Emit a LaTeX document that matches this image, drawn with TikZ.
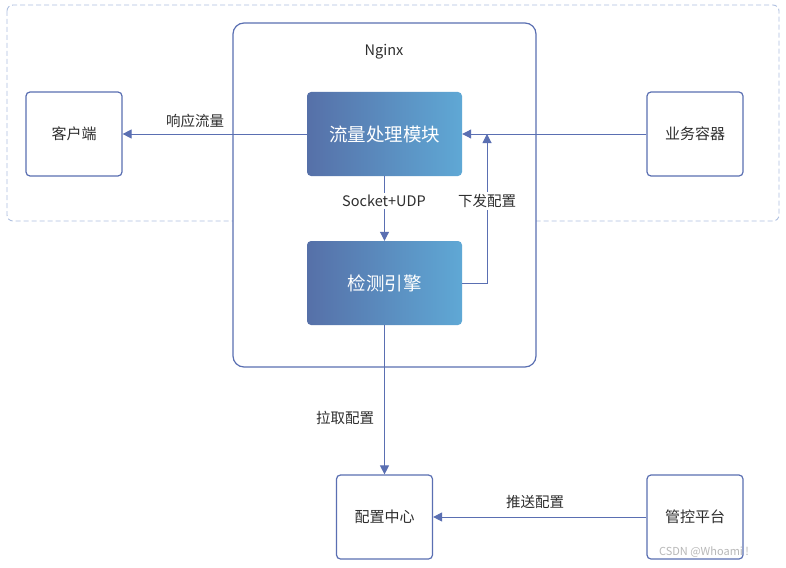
\documentclass[tikz,border=0pt]{standalone}
\usepackage{fontspec}
\setmainfont{Noto Sans CJK SC}
\usetikzlibrary{arrows.meta}
\definecolor{lineblue}{HTML}{5A6FB2}
\definecolor{dashblue}{HTML}{AFC0E0}
\definecolor{gradl}{HTML}{5670A8}
\definecolor{gradr}{HTML}{5FA8D5}
\definecolor{txt}{HTML}{2E2E2E}
\tikzset{
  plainbox/.style={draw=lineblue, line width=1.2pt, rounded corners=4pt, minimum width=96pt, minimum height=84pt, inner sep=0pt, font=\fontsize{15}{17}\selectfont, text=txt},
  gradbox/.style={rounded corners=4pt, minimum width=155pt, minimum height=84pt, inner sep=0pt, left color=gradl, right color=gradr, shading angle=90, text=white, font=\fontsize{18.5}{21}\selectfont},
  conn/.style={draw=lineblue, line width=1pt, -{Triangle[length=9pt,width=9pt]}},
  lbl/.style={font=\fontsize{14.5}{16}\selectfont, text=txt, inner sep=0pt},
}
\begin{document}
\begin{tikzpicture}[x=1pt,y=-1pt]
\useasboundingbox (0,0) rectangle (786,567);
\fill[white] (0,0) rectangle (786,567);
% dashed outer region
\draw[dashblue, line width=0.9pt, dashed, dash pattern=on 5pt off 3pt, rounded corners=6pt] (7,5) rectangle (779,221);
% Nginx container
\draw[lineblue, line width=1.2pt, rounded corners=11pt, fill=white] (233,23) rectangle (536,367);
\node[lbl] (nginx) at (384,52) {Nginx};
% nodes
\node[gradbox] (flow) at (384.5,134) {流量处理模块};
\node[gradbox] (engine) at (384.5,283) {检测引擎};
\node[plainbox] (client) at (74,134) {客户端};
\node[plainbox] (biz) at (695,134) {业务容器};
\node[plainbox] (cfg) at (384.5,517) {配置中心};
\node[plainbox] (ctrl) at (695,517) {管控平台};
% connectors
\draw[conn] (flow.west) -- (client.east);
\draw[conn] (biz.west) -- (flow.east);
\draw[conn] (flow.south) -- (engine.north);
\coordinate (upc) at (487,134);
\draw[conn] (engine.east) -- (487,283) -- (upc);
\draw[conn] (engine.south) -- (cfg.north);
\draw[conn] (ctrl.west) -- (cfg.east);
% labels
\node[lbl] at (195,121) {响应流量};
\node[lbl, fill=white, inner sep=2pt] at (384,201) {Socket+UDP};
\node[lbl, fill=white, inner sep=2pt] at (487,201) {下发配置};
\node[lbl] at (345,418) {拉取配置};
\node[lbl] at (535,502) {推送配置};
\node[font=\fontsize{11}{13}\selectfont, text=black!28, inner sep=0pt] at (704,552) {CSDN @Whoami !};
\end{tikzpicture}
\end{document}
